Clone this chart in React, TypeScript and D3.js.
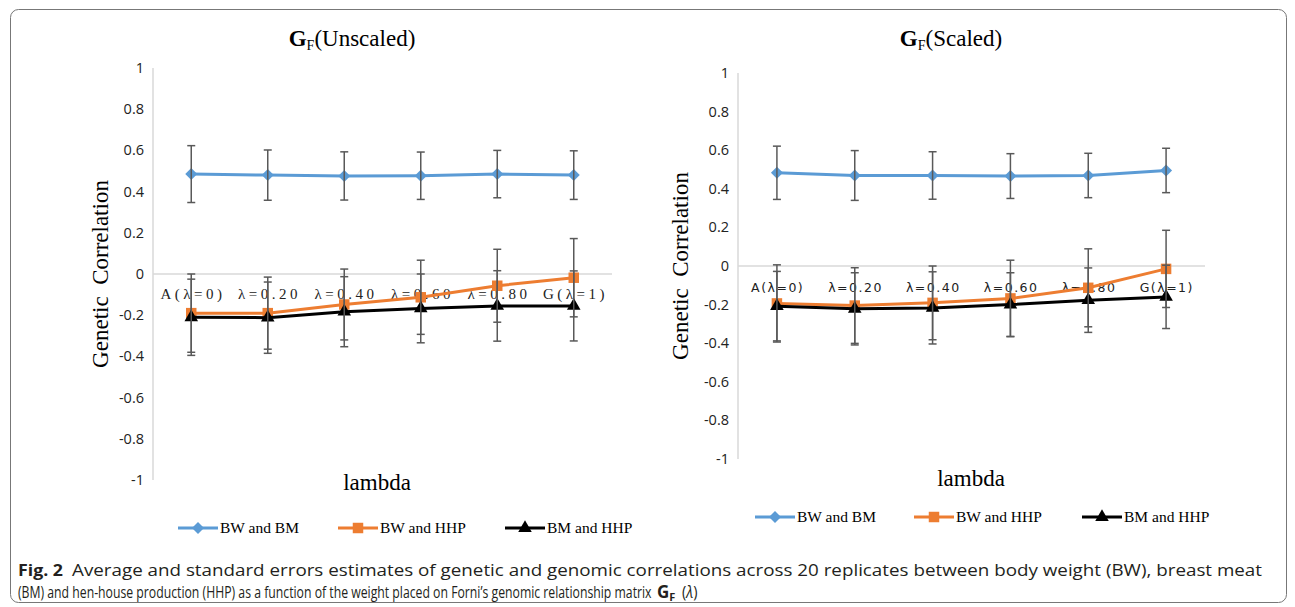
import React, { useEffect, useRef, useState } from 'react';
import * as d3 from 'd3';

const W = 1295;
const H = 607;

// x categories and y ticks
const categories = ['A(λ=0)', 'λ=0.20', 'λ=0.40', 'λ=0.60', 'λ=0.80', 'G(λ=1)'];
const yTicks = [1, 0.8, 0.6, 0.4, 0.2, 0, -0.2, -0.4, -0.6, -0.8, -1];
const seriesNames = ['BW and BM', 'BW and HHP', 'BM and HHP'];
const seriesColors = ['#5b9bd5', '#ed7d31', '#000000'];

// G_F unscaled: means and standard errors
const unscaledBwBm = [0.485, 0.48, 0.476, 0.477, 0.485, 0.48];
const unscaledBwBmSe = [0.138, 0.122, 0.117, 0.115, 0.115, 0.118];
const unscaledBwHhp = [-0.19, -0.19, -0.148, -0.113, -0.057, -0.018];
const unscaledBwHhpSe = [0.19, 0.175, 0.172, 0.18, 0.177, 0.19];
const unscaledBmHhp = [-0.21, -0.212, -0.183, -0.167, -0.155, -0.155];
const unscaledBmHhpSe = [0.185, 0.173, 0.17, 0.167, 0.171, 0.17];

// G_F scaled
const scaledBwBm = [0.483, 0.469, 0.469, 0.466, 0.469, 0.495];
const scaledBwBmSe = [0.138, 0.129, 0.123, 0.116, 0.115, 0.115];
const scaledBwHhp = [-0.194, -0.205, -0.191, -0.168, -0.113, -0.015];
const scaledBwHhpSe = [0.2, 0.196, 0.191, 0.198, 0.202, 0.2];
const scaledBmHhp = [-0.208, -0.222, -0.217, -0.2, -0.177, -0.16];
const scaledBmHhpSe = [0.18, 0.187, 0.187, 0.165, 0.167, 0.164];

const unscaled = [
  { mean: unscaledBwBm, se: unscaledBwBmSe },
  { mean: unscaledBwHhp, se: unscaledBwHhpSe },
  { mean: unscaledBmHhp, se: unscaledBmHhpSe }
];
const scaled = [
  { mean: scaledBwBm, se: scaledBwBmSe },
  { mean: scaledBwHhp, se: scaledBwHhpSe },
  { mean: scaledBmHhp, se: scaledBmHhpSe }
];

const captionLine1 =
  'Average and standard errors estimates of genetic and genomic correlations across 20 replicates between body weight (BW), breast meat';
const captionLine2 =
  '(BM) and hen-house production (HHP) as a function of the weight placed on Forni’s genomic relationship matrix';

const serif = '"Liberation Serif", "Times New Roman", serif';
const sans = '"Open Sans", "Liberation Sans", sans-serif';

const symbolPath = (i: number) => {
  if (i === 0) return d3.symbol(d3.symbolSquare, 72)();
  if (i === 1) return d3.symbol(d3.symbolSquare, 110)();
  return d3.symbol(d3.symbolTriangle, 80)();
};
const symbolRotate = (i: number) => (i === 0 ? 45 : 0);

const fmt = (v: number) => String(Math.round(v * 10) / 10);

function Panel({ data, cfg }: any) {
  const x = d3.scalePoint().domain(categories).range([cfg.x0, cfg.x1]).padding(0.5);
  const y = d3.scaleLinear().domain([-1, 1]).range([cfg.yBot, cfg.yTop]);
  const line = d3
    .line<number>()
    .x((d, i) => x(categories[i]) as number)
    .y(d => y(d));

  return (
    <g>
      {/* title */}
      <text x={cfg.titleX} y={cfg.titleY} textAnchor="middle" fontFamily={serif} fontSize={23}>
        <tspan fontWeight="bold">G</tspan>
        <tspan fontSize={14} dy={4}>F</tspan>
        <tspan dy={-4}>{cfg.title}</tspan>
      </text>

      {/* y axis */}
      <line x1={cfg.x0} x2={cfg.x0} y1={y(1)} y2={y(-1)} stroke="#d9d9d9" strokeWidth={1.5} />
      <line x1={cfg.x0} x2={cfg.x1} y1={y(0)} y2={y(0)} stroke="#d9d9d9" strokeWidth={1.5} />
      {yTicks.map(t => (
        <text key={t} x={cfg.x0 - 9} y={y(t)} dy="0.35em" textAnchor="end" fontFamily={sans} fontSize={14.5} fill="#222">
          {fmt(t)}
        </text>
      ))}
      <text
        transform={`translate(${cfg.ylabelX},${(y(1) + y(-1)) / 2}) rotate(-90)`}
        textAnchor="middle"
        dy="0.35em"
        fontFamily={serif}
        fontSize={23}
        style={{ whiteSpace: 'pre' }}
      >
        {'Genetic  Correlation'}
      </text>

      {/* category labels */}
      {categories.map(c => (
        <text
          key={c}
          x={(x(c) as number) + cfg.catLs / 2}
          y={cfg.catY}
          dy="0.35em"
          textAnchor="middle"
          fontFamily={cfg.catFont}
          fontSize={cfg.catSize}
          letterSpacing={cfg.catLs}
          fill="#222"
        >
          {c}
        </text>
      ))}

      <text x={cfg.lambdaX} y={cfg.lambdaY} dy="0.35em" textAnchor="middle" fontFamily={serif} fontSize={23}>
        lambda
      </text>

      {/* series */}
      {data.map((s: any, si: number) => (
        <g key={si}>
          <path d={line(s.mean) as string} fill="none" stroke={seriesColors[si]} strokeWidth={3} />
          {s.mean.map((v: number, i: number) => (
            <path
              key={i}
              d={symbolPath(si) as string}
              transform={`translate(${x(categories[i])},${y(v)}) rotate(${symbolRotate(si)})`}
              fill={seriesColors[si]}
            />
          ))}
          {s.mean.map((v: number, i: number) => {
            const cx = x(categories[i]) as number;
            const top = y(v + s.se[i]);
            const bot = y(v - s.se[i]);
            return (
              <g key={'e' + i} stroke="#595959" strokeWidth={1.5}>
                <line x1={cx} x2={cx} y1={top} y2={bot} />
                <line x1={cx - 4} x2={cx + 4} y1={top} y2={top} />
                <line x1={cx - 4} x2={cx + 4} y1={bot} y2={bot} />
              </g>
            );
          })}
        </g>
      ))}

      {/* legend */}
      {seriesNames.map((n, i) => (
        <g key={n} transform={`translate(${cfg.legendX[i]},${cfg.legendY})`}>
          <line x1={0} x2={40} y1={0} y2={0} stroke={seriesColors[i]} strokeWidth={3} />
          <path d={symbolPath(i) as string} transform={`translate(20,0) rotate(${symbolRotate(i)})`} fill={seriesColors[i]} />
          <text x={42} y={0} dy="0.35em" fontFamily={serif} fontSize={15.5}>
            {n}
          </text>
        </g>
      ))}
    </g>
  );
}

const leftCfg = {
  x0: 153, x1: 612, yTop: 68, yBot: 480,
  title: '(Unscaled)', titleX: 352, titleY: 46,
  ylabelX: 100, lambdaX: 377, lambdaY: 482,
  catY: 294, catFont: serif, catSize: 15, catLs: 3.5,
  legendX: [178, 338, 505], legendY: 528
};
const rightCfg = {
  x0: 738, x1: 1205, yTop: 73, yBot: 459,
  title: '(Scaled)', titleX: 951, titleY: 46,
  ylabelX: 680, lambdaX: 971, lambdaY: 478,
  catY: 287.5, catFont: '"DejaVu Sans", sans-serif', catSize: 12.5, catLs: 1.5,
  legendX: [755, 914, 1082], legendY: 517
};

const capFont = '"Open Sans", "Liberation Sans", sans-serif';

export default function App() {
  const line2Ref = useRef<SVGTextElement>(null);
  const [k2, setK2] = useState(0.78);

  useEffect(() => {
    // squeeze the second caption line so it ends before "G_F (λ)"
    if (line2Ref.current) {
      const w = line2Ref.current.getComputedTextLength();
      if (w > 0) setK2(634 / w);
    }
  }, []);

  return (
    <svg width={W} height={H} style={{ position: 'absolute', left: 0, top: 0, background: '#fff' }}>
      <rect x={10.5} y={9.5} width={1276} height={593} rx={8} fill="none" stroke="#777" strokeWidth={1} />
      <Panel data={unscaled} cfg={leftCfg} />
      <Panel data={scaled} cfg={rightCfg} />

      {/* caption */}
      <g fill="#231f20" fontFamily={capFont}>
        <text x={18} y={576} fontSize={16.5} fontWeight="bold" textLength={45} lengthAdjust="spacingAndGlyphs">
          Fig. 2
        </text>
        <text x={72} y={576} fontSize={16.5} textLength={1190} lengthAdjust="spacingAndGlyphs">
          {captionLine1}
        </text>
        <g transform={`translate(18,598) scale(${k2},1)`}>
          <text ref={line2Ref} x={0} y={0} fontSize={17}>
            {captionLine2}
          </text>
        </g>
        <text x={657} y={598} fontSize={17} fontWeight="bold">
          G<tspan fontSize={11} dy={3}>F</tspan>
        </text>
        <g transform={`translate(682,598) scale(0.85,1)`}>
          <text x={0} y={0} fontSize={17}>
            (<tspan fontStyle="italic">λ</tspan>)
          </text>
        </g>
      </g>
    </svg>
  );
}
